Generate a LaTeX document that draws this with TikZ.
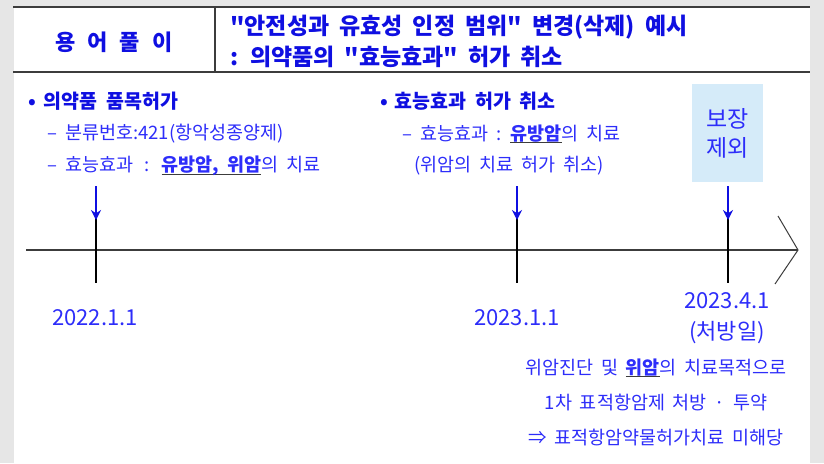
\documentclass[tikz,border=0pt]{standalone}
\usepackage{fontspec}
\setmainfont{Noto Sans CJK KR}[Ligatures=TeXOff,WordSpace=1.9]
\usetikzlibrary{arrows.meta,positioning}
\definecolor{pageGray}{RGB}{230,230,230}
\definecolor{lineGray}{RGB}{60,60,60}
\definecolor{headBlue}{RGB}{15,15,225}
\definecolor{txtBlue}{RGB}{45,45,250}
\definecolor{boxBlue}{RGB}{213,235,249}
\newcommand{\ulbold}[1]{\setbox0\hbox{\bfseries #1}\rlap{\color{lineGray}\rule[-3pt]{\wd0}{1.1pt}}\box0}

\begin{document}
\begin{tikzpicture}[x=1pt,y=-1pt,
  every node/.style={inner sep=0pt,font=\fontsize{18.5}{21}\selectfont,text=txtBlue},
  hd/.style={font=\fontsize{19.5}{21}\selectfont\bfseries,text=headBlue},
  ttl/.style={font=\fontsize{23}{31}\selectfont\bfseries,text=headBlue},
  datum/.style={font=\fontsize{22}{31}\selectfont},
  tick/.style={black,line width=1.2pt},
  dn/.style={-{Stealth[length=10pt,width=10pt]},headBlue,line width=1.8pt}]
% page
\fill[pageGray] (0,0) rectangle (824,463);
\fill[white] (14,7) rectangle (810,463);
\useasboundingbox (0,0) rectangle (824,463);
% header
\draw[lineGray,line width=1.3pt] (13,7) -- (810,7) (13,72) -- (810,72) (215,7) -- (215,72);
\node[ttl,font=\fontsize{22}{31}\selectfont\bfseries] (term) at (114,42) {용\hspace{12pt}어\hspace{12pt}풀\hspace{12pt}이};
\node[ttl,anchor=west,align=left] (title) at (230,41)
  {"안전성과 유효성 인정 범위" 변경(삭제) 예시\\: 의약품의 "효능효과" 허가 취소};
% left column
\node[hd,anchor=west] (permit) at (28,101) {•\hspace{8pt}의약품 품목허가};
\node[anchor=west] (code) at (47,134) {–\hspace{8pt}분류번호:421(항악성종양제)};
\node[anchor=west] (eff1) at (47,166) {–\hspace{8pt}효능효과 \,:\, \ulbold{유방암, 위암}의 치료};
% middle column
\node[hd,anchor=west] (cancel) at (380,101) {•\hspace{7pt}효능효과 허가 취소};
\node[anchor=west] (eff2) at (402,134) {–\hspace{8pt}효능효과 : \ulbold{유방암}의 치료};
\node[anchor=west] (eff3) at (414,166) {(위암의 치료 허가 취소)};
% box
\node[fill=boxBlue,minimum width=71pt,minimum height=98pt,align=center,
  font=\fontsize{23}{29}\selectfont] (excl) at (727.5,133) {보장\\제외};
% timeline
\coordinate (tl0) at (26,250);
\coordinate (tl1) at (798,250);
\draw[lineGray,line width=2pt] (tl0) -- (tl1);
\draw[lineGray,line width=1pt] (778,216) -- (tl1) -- (775,284);
\foreach \name/\x in {t1/96,t2/517,t3/728}{
  \coordinate (\name top) at (\x,215);
  \coordinate (\name bot) at (\x,283);
  \coordinate (\name arr) at (\x,186);
  \draw[tick] (\name top) -- (\name bot);
  \draw[dn] (\name arr) -- ([yshift=-5pt]\name top);
}
% dates
\node[datum] (d1) at (95,318) {2022.1.1};
\node[datum] (d2) at (517,318) {2023.1.1};
\node[datum,align=center] (d3) at (727,318) {2023.4.1\\(처방일)};
% note
\node[align=center,font=\fontsize{18.5}{35}\selectfont] (note) at (656,402)
  {위암진단 및 \ulbold{위암}의 치료목적으로\\1차 표적항암제 처방 · 투약\\⇒ 표적항암약물허가치료 미해당};
\end{tikzpicture}
\end{document}
